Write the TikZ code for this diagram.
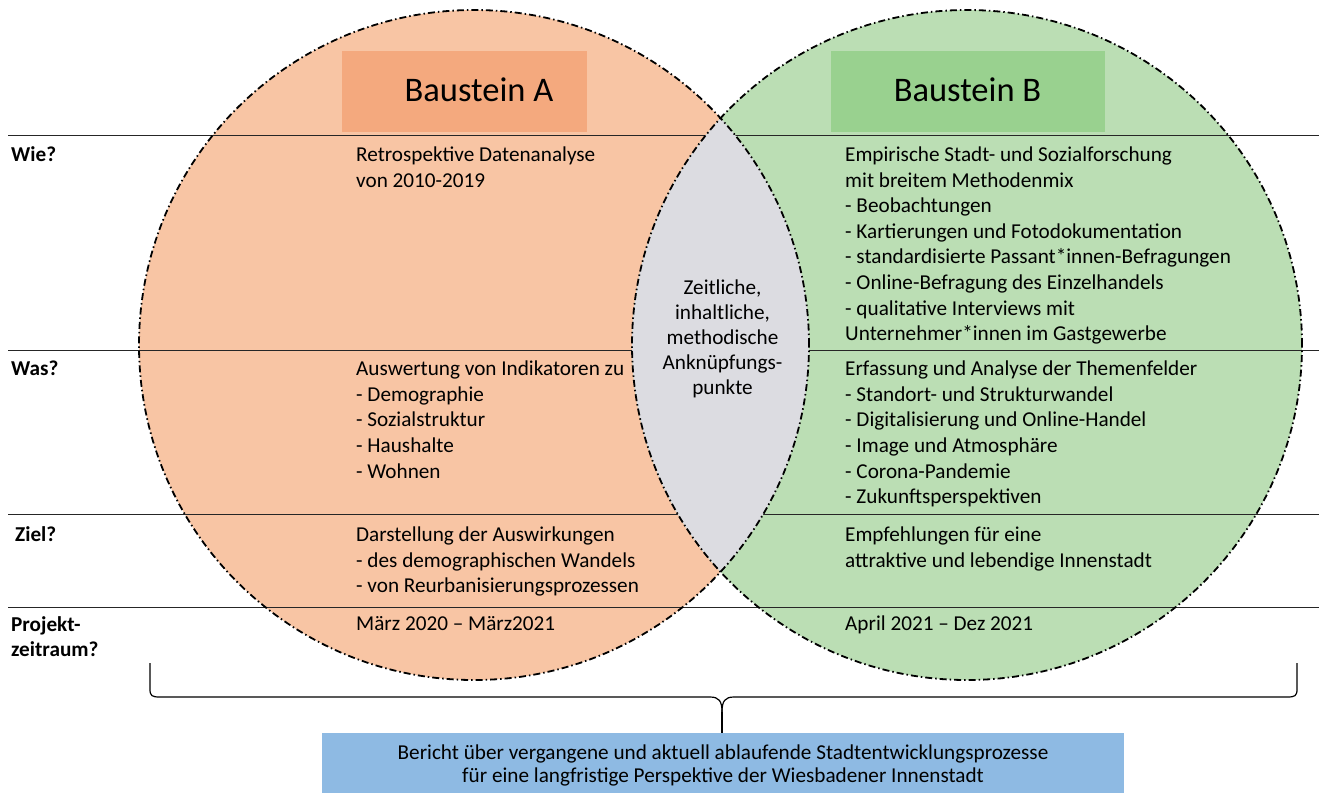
\documentclass[tikz,border=0pt]{standalone}
\usepackage{fontspec}
\setmainfont{Carlito}
\definecolor{peach}{RGB}{248,197,164}
\definecolor{peachhead}{RGB}{244,169,126}
\definecolor{leaf}{RGB}{187,222,180}
\definecolor{leafhead}{RGB}{153,209,143}
\definecolor{lensgrey}{RGB}{220,220,225}
\definecolor{skyblue}{RGB}{142,186,227}
\begin{document}
\begin{tikzpicture}[x=1pt,y=-1pt,
  txt/.style={font=\fontsize{21.2}{25.6}\selectfont, inner sep=0pt, anchor=base west, align=left},
  lbl/.style={font=\fontsize{21.2}{25}\selectfont\bfseries, inner sep=0pt, anchor=base west, align=left},
  ring/.style={draw=black, line width=1.8pt, dash pattern=on 7pt off 3pt on 1.5pt off 3pt},
  rowline/.style={draw=black!85, line width=1pt},
  headbox/.style={inner sep=0pt, minimum height=81pt},
  headtxt/.style={inner sep=0pt, anchor=base, font=\fontsize{34.5}{40}\selectfont},
]
\useasboundingbox (0,0) rectangle (1319,793);
\coordinate (cA) at (474,345);
\coordinate (cB) at (967,345);
% fills
\fill[peach] (cA) circle[radius=335pt];
\fill[leaf] (cB) circle[radius=335pt];
% headers
\node[headbox, fill=peachhead, minimum width=245pt] (hA) at (464.5,91) {};
\node[headbox, fill=leafhead, minimum width=274pt] (hB) at (968,91) {};
\node[headtxt] (tA) at (479,101.5) {Baustein A};
\node[headtxt] (tB) at (967.5,101.5) {Baustein B};
% row lines
\coordinate (l1a) at (8,135);   \coordinate (l1b) at (1319,135);
\coordinate (l2a) at (8,350.5); \coordinate (l2b) at (1319,350.5);
\coordinate (l3a) at (8,514.5); \coordinate (l3b) at (1319,514.5);
\coordinate (l4a) at (8,607);   \coordinate (l4b) at (1319,607);
\draw[rowline] (l1a) -- (l1b);
\draw[rowline] (l2a) -- (l2b);
\draw[rowline] (l3a) -- (l3b);
\draw[rowline] (l4a) -- (l4b);
% lens
\begin{scope}
  \clip (cA) circle[radius=335pt];
  \fill[lensgrey] (cB) circle[radius=335pt];
\end{scope}
% outlines
\draw[ring] (cA) circle[radius=335pt];
\draw[ring] (cB) circle[radius=335pt];
% lens text (anchor = baseline of last line)
\node[font=\fontsize{21.2}{25}\selectfont, inner sep=0pt, anchor=base, align=center] (lens) at (722.5,394)
  {Zeitliche,\\inhaltliche,\\methodische\\Anknüpfungs-\\punkte};
% row labels (anchor = baseline of last line)
\node[lbl] (wie) at (11,161.5) {Wie?};
\node[lbl] (was) at (11,375.7) {Was?};
\node[lbl] (ziel) at (15,541) {Ziel?};
\node[lbl] (proj) at (11,656.7) {Projekt-\\zeitraum?};
% column A
\node[txt] (aWie) at (356,187.1) {Retrospektive Datenanalyse\\von 2010-2019};
\node[txt] (aWas) at (356,478.1) {Auswertung von Indikatoren zu\\- Demographie\\- Sozialstruktur\\- Haushalte\\- Wohnen};
\node[txt] (aZiel) at (356,592.7) {Darstellung der Auswirkungen\\- des demographischen Wandels\\- von Reurbanisierungsprozessen};
\node[txt] (aProj) at (356,630.5) {März 2020 – März2021};
% column B
\node[txt] (bWie) at (845,340.7) {Empirische Stadt- und Sozialforschung\\mit breitem Methodenmix\\- Beobachtungen\\- Kartierungen und Fotodokumentation\\- standardisierte Passant*innen-Befragungen\\- Online-Befragung des Einzelhandels\\- qualitative Interviews mit\\Unternehmer*innen im Gastgewerbe};
\node[txt] (bWas) at (845,503.7) {Erfassung und Analyse der Themenfelder\\- Standort- und Strukturwandel\\- Digitalisierung und Online-Handel\\- Image und Atmosphäre\\- Corona-Pandemie\\- Zukunftsperspektiven};
\node[txt] (bZiel) at (845,567.1) {Empfehlungen für eine\\attraktive und lebendige Innenstadt};
\node[txt] (bProj) at (845,630.5) {April 2021 – Dez 2021};
% result box
\node[fill=skyblue, minimum width=802pt, minimum height=60pt, inner sep=0pt] (rep) at (723,763) {};
\node[font=\fontsize{21.2}{23}\selectfont, inner sep=0pt, anchor=base, align=center] (repText) at (723,782)
  {Bericht über vergangene und aktuell ablaufende Stadtentwicklungsprozesse\\für eine langfristige Perspektive der Wiesbadener Innenstadt};
% brace
\coordinate (bl) at (150,663);
\coordinate (br) at (1297,663);
\coordinate (tip) at (722,712);
\draw[line width=1.2pt] (bl) -- (150,689) .. controls (150,696) and (152,697) .. (160,697) -- (710,697)
  .. controls (719,697) and (722,701) .. (tip);
\draw[line width=1.2pt] (br) -- (1297,689) .. controls (1297,696) and (1295,697) .. (1287,697) -- (734,697)
  .. controls (725,697) and (722,701) .. (tip);
\draw[line width=1.2pt] (tip) -- (rep.north -| tip);
\end{tikzpicture}
\end{document}
